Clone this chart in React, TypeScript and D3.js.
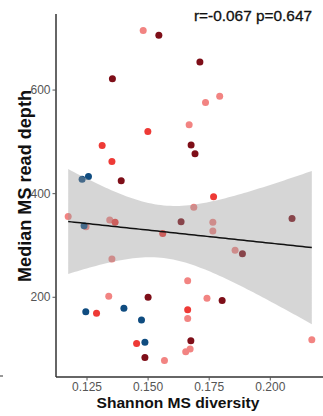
import React, { useEffect, useRef } from "react";
import * as d3 from "d3";

// Shannon MS diversity per sample (x)
const shannon = [
  0.1482, 0.1546, 0.1714, 0.1356, 0.1795, 0.1737, 0.1670, 0.1501, 0.1314, 0.1678,
  0.1694, 0.1354, 0.1232, 0.1258, 0.1392, 0.1770, 0.1689, 0.1175, 0.1345, 0.1367,
  0.1248, 0.1240, 0.1637, 0.1767, 0.1767, 0.1562, 0.2091, 0.1858, 0.1888, 0.1354,
  0.1664, 0.1341, 0.1502, 0.1247, 0.1291, 0.1403, 0.1475, 0.1664, 0.1664, 0.1455,
  0.1489, 0.1677, 0.1656, 0.1674, 0.1489, 0.1569, 0.1743, 0.1805, 0.2172,
];

// Median MS read depth per sample (y)
const depth = [
  714, 705, 653, 621, 587, 575, 532, 519, 492, 493,
  476, 461, 427, 432, 424, 393, 373, 355, 348, 344,
  335, 337, 345, 344, 327, 322, 351, 290, 283, 273,
  231, 201, 199, 171, 168, 178, 155, 175, 158, 110,
  112, 115, 94, 99, 83, 77, 197, 193, 117,
];

// sample group (colour)
const group = [
  "pink", "dark", "dark", "dark", "pink", "pink", "pink", "red", "red", "dark",
  "dark", "red", "blue", "blue", "dark", "red", "pink", "pink", "pink", "red",
  "pink", "blue", "dark", "pink", "pink", "red", "dark", "pink", "dark", "pink",
  "pink", "pink", "dark", "blue", "red", "blue", "blue", "red", "pink", "red",
  "blue", "dark", "pink", "pink", "dark", "pink", "pink", "dark", "pink",
];

const groupColor: Record<string, string> = {
  pink: "#F28482",
  red: "#EE3A36",
  dark: "#7E0E18",
  blue: "#0F4C80",
};

const xTicks = [0.125, 0.15, 0.175, 0.2];
const yTicks = [200, 400, 600];
const statLabel = "r=-0.067 p=0.647";

const W = 323;
const H = 416;
const left = 56, right = 324, top = 14, bottom = 377;

export default function App() {
  const ref = useRef<SVGSVGElement>(null);

  useEffect(() => {
    const svg = d3.select(ref.current);
    svg.selectAll("*").remove();

    const n = shannon.length;
    const [x0, x1] = d3.extent(shannon) as [number, number];
    const [y0, y1] = d3.extent(depth) as [number, number];
    const dx = (x1 - x0) * 0.05, dy = (y1 - y0) * 0.05;

    const x = d3.scaleLinear().domain([x0 - dx, x1 + dx]).range([left, right]);
    const y = d3.scaleLinear().domain([y0 - dy, y1 + dy]).range([bottom, top]);

    // linear fit + 95% CI like geom_smooth(method = "lm")
    const mx = d3.mean(shannon)!;
    const my = d3.mean(depth)!;
    let sxx = 0, sxy = 0;
    shannon.forEach((v, i) => {
      sxx += (v - mx) ** 2;
      sxy += (v - mx) * (depth[i] - my);
    });
    const slope = sxy / sxx;
    const icpt = my - slope * mx;
    let rss = 0;
    shannon.forEach((v, i) => {
      rss += (depth[i] - (icpt + slope * v)) ** 2;
    });
    const s = Math.sqrt(rss / (n - 2));
    const tq = 2.0117;
    const grid = d3.range(80).map(k => x0 + (x1 - x0) * k / 79);
    const band = grid.map(g => {
      const fit = icpt + slope * g;
      const se = s * Math.sqrt(1 / n + (g - mx) ** 2 / sxx);
      return { g, fit, lo: fit - tq * se, hi: fit + tq * se };
    });

    // points
    const order = d3.range(n).sort((a, b) => (group[a] === "blue" ? 1 : 0) - (group[b] === "blue" ? 1 : 0));
    svg.append("g")
      .selectAll("circle")
      .data(order)
      .join("circle")
        .attr("cx", i => x(shannon[i]))
        .attr("cy", i => y(depth[i]))
        .attr("r", 3.5)
        .attr("fill", i => groupColor[group[i]]);

    // ribbon over points
    const area = d3.area<any>()
      .x(d => x(d.g))
      .y0(d => y(d.lo))
      .y1(d => y(d.hi))
      .curve(d3.curveLinear);
    svg.append("path")
      .attr("d", area(band))
      .attr("fill", "#999999")
      .attr("fill-opacity", 0.4);

    const line = d3.line<any>().x(d => x(d.g)).y(d => y(d.fit));
    svg.append("path")
      .attr("d", line(band))
      .attr("fill", "none")
      .attr("stroke", "#111")
      .attr("stroke-width", 1.5);

    // axes
    const ax = svg.append("g").attr("transform", `translate(0,${bottom})`)
      .call(d3.axisBottom(x).tickValues(xTicks).tickFormat(d3.format(".3f")).tickSizeOuter(0).tickSize(3.5).tickPadding(2));
    const ay = svg.append("g").attr("transform", `translate(${left},0)`)
      .call(d3.axisLeft(y).tickValues(yTicks).tickSizeOuter(0).tickSize(3.5).tickPadding(2));
    [ax, ay].forEach(a => {
      a.select(".domain").attr("stroke", "#333").attr("stroke-width", 1.5)
        .attr("d", null);
      a.selectAll(".tick line").attr("stroke", "#555");
      a.selectAll(".tick text")
        .attr("fill", "#555")
        .attr("font-size", 12)
        .attr("font-family", "Liberation Sans, Arial, sans-serif");
    });
    ax.select(".domain").attr("d", `M${left},0H${W}`);
    ay.select(".domain").attr("d", `M0,${top}V${bottom}`);

    // titles
    svg.append("text")
      .attr("x", 178)
      .attr("y", 408)
      .attr("text-anchor", "middle")
      .attr("font-family", "Liberation Sans, Arial, sans-serif")
      .attr("font-weight", "bold")
      .attr("font-size", 15.5)
      .attr("textLength", 163)
      .attr("lengthAdjust", "spacingAndGlyphs")
      .attr("fill", "#111")
      .text("Shannon MS diversity");

    svg.append("text")
      .attr("transform", `translate(31,186) rotate(-90)`)
      .attr("text-anchor", "middle")
      .attr("font-family", "Liberation Sans, Arial, sans-serif")
      .attr("font-weight", "bold")
      .attr("font-size", 18)
      .attr("textLength", 192)
      .attr("lengthAdjust", "spacingAndGlyphs")
      .attr("fill", "#111")
      .text("Median MS read depth");

    svg.append("text")
      .attr("x", 194)
      .attr("y", 20.5)
      .attr("font-family", "Liberation Sans, Arial, sans-serif")
      .attr("font-size", 14.5)
      .attr("textLength", 118)
      .attr("lengthAdjust", "spacingAndGlyphs")
      .attr("fill", "#111")
      .attr("stroke", "#111")
      .attr("stroke-width", 0.3)
      .text(statLabel);

    // stray mark at the left edge from the neighbouring panel
    svg.append("line")
      .attr("x1", 0).attr("x2", 3).attr("y1", 376).attr("y2", 376)
      .attr("stroke", "#333").attr("stroke-width", 1);
  }, []);

  return (
    <div style={{ position: "fixed", left: 0, top: 0, background: "#fff" }}>
      <svg ref={ref} width={W} height={H} style={{ display: "block" }} />
    </div>
  );
}
